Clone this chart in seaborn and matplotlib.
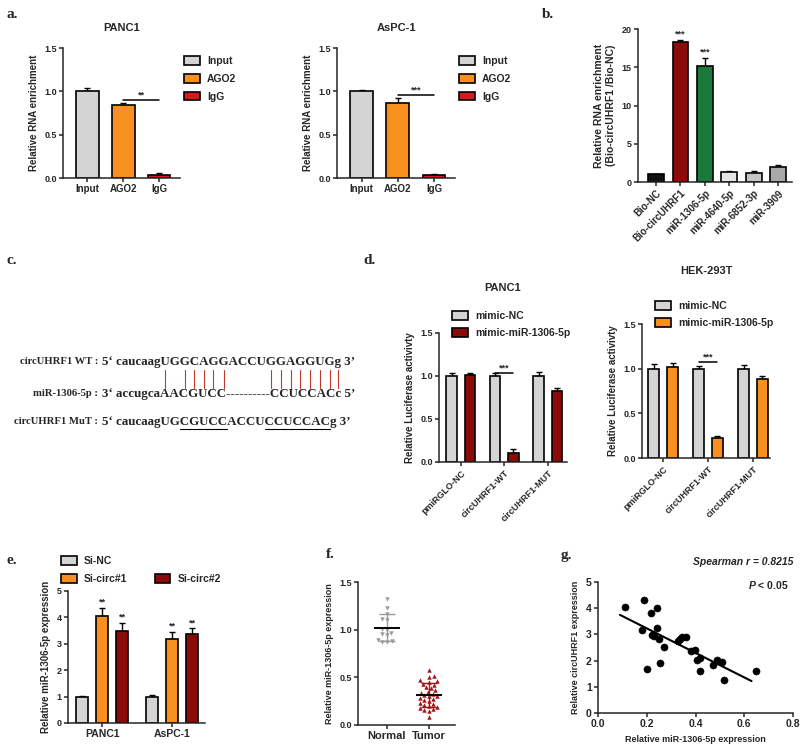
import matplotlib
matplotlib.use("Agg")
import matplotlib.pyplot as plt
import numpy as np
import pandas as pd
import seaborn as sns
from matplotlib.font_manager import FontProperties
from matplotlib.lines import Line2D
from matplotlib.patches import Patch

W, H = 800, 745

# a. RIP assay
RIP_GROUPS = ["Input", "AGO2", "IgG"]
RIP_COLORS = ["#d4d4d4", "#f7901e", "#d7191c"]
RIP_PANC1 = [1.00, 0.84, 0.04]
RIP_PANC1_ERR = [0.04, 0.03, 0.02]
RIP_ASPC1 = [1.00, 0.87, 0.03]
RIP_ASPC1_ERR = [0.02, 0.05, 0.02]

# b. biotin pull-down
PULL_GROUPS = ["Bio-NC", "Bio-circUHRF1", "miR-1306-5p", "miR-4640-5p", "miR-6852-3p", "miR-3909"]
PULL_COLORS = ["#111111", "#8b0a0a", "#1b7a3b", "#e4e4e4", "#c6c6c6", "#a8a8a8"]
PULL_VALUES = [1.0, 18.3, 15.1, 1.3, 1.2, 2.0]
PULL_ERR = [0.1, 0.3, 1.1, 0.1, 0.25, 0.2]

# c. binding sites
SEQ_LABELS = ["circUHRF1 WT :", "miR-1306-5p :", "circUHRF1 MuT :"]
SEQ_TEXTS = ["5\u2018 caucaagUGGCAGGACCUGGAGGUGg 3\u2019",
             "3\u2018 accugcaAACGUCC----------CCUCCACc 5\u2019",
             "5\u2018 caucaagUGCGUCCACCUCCUCCACg 3\u2019"]
PAIRED = [0, 2, 3, 4, 5, 6, 11, 12, 13, 14, 15, 16, 17, 18]
MUTATED = ["CGUCC", "CCUCCAC"]

# d. luciferase reporter
LUC_GROUPS = ["pmiRGLO-NC", "circUHRF1-WT", "circUHRF1-MUT"]
LUC_TREAT = ["mimic-NC", "mimic-miR-1306-5p"]
LUC_PANC1_NC = [1.00, 1.00, 1.00]
LUC_PANC1_MIM = [1.01, 0.11, 0.82]
LUC_PANC1_NC_ERR = [0.03, 0.03, 0.05]
LUC_PANC1_MIM_ERR = [0.03, 0.04, 0.04]
LUC_HEK_NC = [1.00, 1.00, 1.00]
LUC_HEK_MIM = [1.02, 0.22, 0.88]
LUC_HEK_NC_ERR = [0.05, 0.03, 0.04]
LUC_HEK_MIM_ERR = [0.04, 0.03, 0.04]

# e. knockdown
KD_CELLS = ["PANC1", "AsPC-1"]
KD_GROUPS = ["Si-NC", "Si-circ#1", "Si-circ#2"]
KD_COLORS = ["#d4d4d4", "#f7901e", "#8b0a0a"]
KD_SINC = [1.0, 1.0]
KD_CIRC1 = [4.05, 3.2]
KD_CIRC2 = [3.5, 3.38]
KD_SINC_ERR = [0.02, 0.05]
KD_CIRC1_ERR = [0.3, 0.25]
KD_CIRC2_ERR = [0.3, 0.2]

# f. tissue expression
NORMAL = [1.32, 1.23, 1.16, 1.11, 1.10, 1.01, 1.00, 0.97, 0.95, 0.94, 0.89, 0.88, 0.87, 0.87]
TUMOR = [0.58, 0.51, 0.50, 0.47, 0.46, 0.45, 0.43, 0.42, 0.40, 0.39, 0.37, 0.35, 0.34,
         0.33, 0.31, 0.30, 0.30, 0.28, 0.27, 0.26, 0.25, 0.23, 0.22, 0.21, 0.20, 0.19,
         0.18, 0.17, 0.16, 0.15, 0.08]

# g. correlation
G_MIR = [0.112, 0.19, 0.24, 0.216, 0.18, 0.24, 0.223, 0.231, 0.25, 0.27, 0.20, 0.254, 0.33,
         0.343, 0.36, 0.335, 0.38, 0.397, 0.408, 0.418, 0.42, 0.47, 0.49, 0.51, 0.518, 0.648]
G_CIRC = [4.05, 4.30, 4.0, 3.80, 3.17, 3.23, 2.98, 2.94, 2.81, 2.53, 1.68, 1.89, 2.76,
          2.89, 2.90, 2.83, 2.37, 2.42, 2.03, 2.11, 1.60, 1.83, 2.02, 1.93, 1.25, 1.61]
FIT_RANGE = [0.09, 0.63]


def px_axes(fig, x0, y0, x1, y1):
    return fig.add_axes([x0 / W, 1 - y1 / H, (x1 - x0) / W, (y1 - y0) / H])


def style_axis(ax, labelsize=6.5):
    sns.despine(ax=ax)
    for side in ["left", "bottom"]:
        ax.spines[side].set_linewidth(1.1)
    ax.tick_params(width=1.1, length=3, labelsize=labelsize, pad=1.5)
    ax.set_xlabel("")


def bar_slots(ax):
    # bars grouped by category slot, left to right inside each slot
    slots = {}
    for p in sorted(ax.patches, key=lambda p: p.get_x()):
        cx = p.get_x() + p.get_width() / 2
        slots.setdefault(int(round(cx)), []).append((cx, p.get_height()))
    return slots


def add_errors(ax, errs_by_hue):
    for c, items in bar_slots(ax).items():
        for h, (cx, top) in enumerate(items):
            ax.errorbar(cx, top, yerr=[[0], [errs_by_hue[h][c]]], fmt="none", ecolor="black",
                        elinewidth=1, capsize=2.5, capthick=1, zorder=1)


def simple_bars(ax, groups, values, errs, colors, width):
    df = pd.DataFrame({"group": groups, "value": values})
    sns.barplot(data=df, x="group", y="value", hue="group", order=groups, hue_order=groups,
                palette=colors, width=width, saturation=1, edgecolor="black", linewidth=1.2,
                errorbar=None, legend=False, ax=ax, zorder=2)
    add_errors(ax, [errs])


def grouped_bars(ax, cats, hues, series, errs, colors, width, gap):
    rows = [(c, h, v) for h, vals in zip(hues, series) for c, v in zip(cats, vals)]
    df = pd.DataFrame(rows, columns=["cat", "hue", "value"])
    sns.barplot(data=df, x="cat", y="value", hue="hue", order=cats, hue_order=hues,
                palette=colors, width=width, gap=gap, saturation=1, edgecolor="black",
                linewidth=1.2, errorbar=None, legend=False, ax=ax, zorder=2)
    add_errors(ax, errs)


def sig_line(ax, slot, left, right, y, label, size=6.5):
    items = bar_slots(ax)
    if isinstance(slot, tuple):
        x1, x2 = items[slot[0]][left][0], items[slot[1]][right][0]
    else:
        x1, x2 = items[slot][left][0], items[slot][right][0]
    ax.plot([x1, x2], [y, y], color="black", lw=1.1)
    ax.text((x1 + x2) / 2, y, label, ha="center", va="bottom", fontsize=size)


def box_legend(ax, labels, colors, **kw):
    handles = [Patch(facecolor=c, edgecolor="black", linewidth=1.2, visible=bool(lab))
               for lab, c in zip(labels, colors)]
    return ax.legend(handles, labels, frameon=False, handlelength=1.5, handleheight=0.9,
                     handletextpad=0.7, borderaxespad=0, **kw)


def main():
    sns.set_theme(style="ticks")
    plt.rcParams.update({
        "font.family": ["Liberation Sans", "DejaVu Sans"],
        "font.weight": "bold",
        "axes.labelweight": "bold",
        "axes.titleweight": "bold",
        "mathtext.fontset": "custom",
        "mathtext.it": "Liberation Sans:bold:italic",
        "mathtext.rm": "Liberation Sans:bold",
    })
    fig = plt.figure(figsize=(W / 100, H / 100), dpi=100)

    # panel a
    for (x0, x1, title, vals, errs, star, ybar) in [
        (63, 180, "PANC1", RIP_PANC1, RIP_PANC1_ERR, "**", 0.9),
        (337, 455, "AsPC-1", RIP_ASPC1, RIP_ASPC1_ERR, "***", 0.96),
    ]:
        ax = px_axes(fig, x0, 48, x1, 178)
        simple_bars(ax, RIP_GROUPS, vals, errs, RIP_COLORS, 0.63)
        ax.set_xlim(-0.68, 2.58)
        ax.set_ylim(0, 1.5)
        ax.set_yticks([0, 0.5, 1.0, 1.5])
        style_axis(ax)
        ax.tick_params(axis="x", labelsize=7)
        ax.set_ylabel("Relative RNA enrichment", fontsize=7)
        ax.set_title(title, fontsize=8, pad=12)
        sig_line(ax, (1, 2), 0, 0, ybar, star)
        box_legend(ax, RIP_GROUPS, RIP_COLORS, loc="upper left", bbox_to_anchor=(1.0, 0.97),
                   fontsize=7.5, labelspacing=0.75)

    # panel b
    ax = px_axes(fig, 638, 29, 792, 182)
    simple_bars(ax, PULL_GROUPS, PULL_VALUES, PULL_ERR, PULL_COLORS, 0.65)
    ax.set_xlim(-0.74, 5.57)
    ax.set_ylim(0, 20)
    ax.set_yticks([0, 5, 10, 15, 20])
    style_axis(ax)
    ax.tick_params(axis="x", labelsize=7)
    plt.setp(ax.get_xticklabels(), rotation=45, ha="right", rotation_mode="anchor")
    ax.set_ylabel("Relative RNA enrichment\n(Bio-circUHRF1 /Bio-NC)", fontsize=7.5)
    slots = bar_slots(ax)
    for i in [1, 2]:
        cx, top = slots[i][0]
        ax.text(cx, top + PULL_ERR[i] + 0.2, "***", ha="center", va="bottom", fontsize=6.5)

    # panel c
    lab_font = FontProperties(family="Liberation Serif", weight="bold", size=7.7)
    seq_font = FontProperties(family="Liberation Serif", weight="bold", size=9.4)
    renderer = fig.canvas.get_renderer()

    def text_w(s):
        return renderer.get_text_width_height_descent(s, seq_font, ismath=False)[0]

    colon_x, seq_x = 98, 102
    rows_y = [362, 394, 422]
    for lab, seq, y in zip(SEQ_LABELS, SEQ_TEXTS, rows_y):
        fig.text(colon_x / W, 1 - y / H, lab, ha="right", va="center", fontproperties=lab_font)
        fig.text(seq_x / W, 1 - y / H, seq, ha="left", va="center", fontproperties=seq_font)
    seq1 = SEQ_TEXTS[0]
    start = seq1.index("UGG")
    for k in PAIRED:
        i = start + k
        cx = seq_x + text_w(seq1[:i + 1]) - text_w(seq1[i]) / 2
        fig.add_artist(Line2D([cx / W, cx / W], [1 - 370 / H, 1 - 388 / H], color="#c0392b",
                              lw=0.8, transform=fig.transFigure))
    seq3 = SEQ_TEXTS[2]
    pos = seq3.index("UG") + 2
    for motif in MUTATED:
        i = seq3.index(motif, pos)
        xa = seq_x + text_w(seq3[:i + 1]) - text_w(seq3[i])
        xb = seq_x + text_w(seq3[:i + len(motif)])
        fig.add_artist(Line2D([xa / W, xb / W], [1 - 429 / H, 1 - 429 / H], color="black",
                              lw=0.8, transform=fig.transFigure))
        pos = i + len(motif)

    # panel d
    for (x0, y0, x1, y1, title, nc, mim, nce, mime, col, tpad, ybar, xlim) in [
        (439, 333, 567, 462, "PANC1", LUC_PANC1_NC, LUC_PANC1_MIM, LUC_PANC1_NC_ERR,
         LUC_PANC1_MIM_ERR, "#8b0a0a", 30, 1.04, (-0.5, 2.44)),
        (642, 324, 770, 458, "HEK-293T", LUC_HEK_NC, LUC_HEK_MIM, LUC_HEK_NC_ERR,
         LUC_HEK_MIM_ERR, "#f7901e", 36, 1.08, (-0.47, 2.38)),
    ]:
        ax = px_axes(fig, x0, y0, x1, y1)
        grouped_bars(ax, LUC_GROUPS, LUC_TREAT, [nc, mim], [nce, mime], ["#d4d4d4", col], 0.84, 0.43)
        ax.set_xlim(*xlim)
        ax.set_ylim(0, 1.5)
        ax.set_yticks([0, 0.5, 1.0, 1.5])
        style_axis(ax)
        ax.tick_params(axis="x", labelsize=6.5)
        plt.setp(ax.get_xticklabels(), rotation=45, ha="right", rotation_mode="anchor")
        ax.set_ylabel("Relative Luciferase activivty", fontsize=7)
        ax.set_title(title, fontsize=8, pad=tpad)
        sig_line(ax, 1, 0, 1, ybar, "***")
        box_legend(ax, LUC_TREAT, ["#d4d4d4", col], loc="upper left",
                   bbox_to_anchor=(0.07, 1.2), fontsize=7.5, labelspacing=0.65)

    # panel e
    ax = px_axes(fig, 68, 591, 205, 723)
    grouped_bars(ax, KD_CELLS, KD_GROUPS, [KD_SINC, KD_CIRC1, KD_CIRC2],
                 [KD_SINC_ERR, KD_CIRC1_ERR, KD_CIRC2_ERR], KD_COLORS, 0.86, 0.4)
    ax.set_xlim(-0.49, 1.47)
    ax.set_ylim(0, 5)
    ax.set_yticks([0, 1, 2, 3, 4, 5])
    style_axis(ax)
    ax.tick_params(axis="x", labelsize=7.5)
    ax.set_ylabel("Relative miR-1306-5p expression", fontsize=7)
    errs = [KD_SINC_ERR, KD_CIRC1_ERR, KD_CIRC2_ERR]
    for c, items in bar_slots(ax).items():
        for h, (cx, top) in enumerate(items):
            if h > 0:
                ax.text(cx, top + errs[h][c] + 0.05, "**", ha="center", va="bottom", fontsize=6.5)
    # empty slot keeps Si-circ#2 on the second row, as in the original layout
    box_legend(ax, [KD_GROUPS[0], KD_GROUPS[1], "", KD_GROUPS[2]],
               [KD_COLORS[0], KD_COLORS[1], "white", KD_COLORS[2]],
               loc="lower left", bbox_to_anchor=(-0.08, 1.02), ncol=2, columnspacing=2.6,
               fontsize=7.5, labelspacing=0.75)

    # panel f
    ax = px_axes(fig, 358, 582, 455, 725)
    df_f = pd.DataFrame({"group": ["Normal"] * len(NORMAL) + ["Tumor"] * len(TUMOR),
                         "value": NORMAL + TUMOR})
    for grp, marker, col in [("Normal", "v", "#9a9a9a"), ("Tumor", "^", "#a31515")]:
        sns.swarmplot(data=df_f[df_f["group"] == grp], x="group", y="value",
                      order=["Normal", "Tumor"], marker=marker, color=col, size=3.2,
                      linewidth=0, ax=ax)
    for i, (vals, col) in enumerate([(NORMAL, "#9a9a9a"), (TUMOR, "#a31515")]):
        m, s = np.mean(vals), np.std(vals, ddof=1)
        ax.hlines(m, i - 0.32, i + 0.32, color="black", lw=1.4, zorder=4)
        ax.errorbar(i, m, yerr=s, fmt="none", ecolor=col, elinewidth=1, capsize=6,
                    capthick=1, zorder=3)
    ax.set_xlim(-0.69, 1.62)
    ax.set_ylim(0, 1.5)
    ax.set_yticks([0, 0.5, 1.0, 1.5])
    style_axis(ax)
    ax.tick_params(axis="x", labelsize=8)
    ax.set_ylabel("Relative miR-1306-5p expression", fontsize=6.5)

    # panel g
    ax = px_axes(fig, 598, 582, 793, 713)
    sns.scatterplot(x=G_MIR, y=G_CIRC, color="black", s=26, edgecolor="black", ax=ax)
    slope, intercept = np.polyfit(G_MIR, G_CIRC, 1)
    xs = np.array(FIT_RANGE)
    ax.plot(xs, slope * xs + intercept, color="black", lw=1.5)
    ax.set_xlim(0, 0.8)
    ax.set_ylim(0, 5)
    ax.set_xticks([0, 0.2, 0.4, 0.6, 0.8])
    ax.set_yticks([0, 1, 2, 3, 4, 5])
    style_axis(ax, labelsize=7.5)
    ax.set_xlabel("Relative miR-1306-5p expression", fontsize=6.5)
    ax.set_ylabel("Relative circUHRF1 expression", fontsize=6.5)
    ax.text(1.0, 1.155, "Spearman r = 0.8215", transform=ax.transAxes, ha="right", va="center",
            fontsize=7.5, style="italic")
    ax.text(0.98, 0.975, r"$\it{P}$ < 0.05", transform=ax.transAxes, ha="right", va="center",
            fontsize=7.5)

    # panel letters
    for lab, x, y in [("a.", 12, 15), ("b.", 548, 15), ("c.", 12, 261), ("d.", 370, 261),
                      ("e.", 12, 560), ("f.", 330, 555), ("g.", 566, 555)]:
        fig.text(x / W, 1 - y / H, lab, ha="center", va="center", fontsize=11,
                 family="Liberation Serif", weight="bold")

    fig.savefig("out.png", dpi=100)
    plt.close(fig)


if __name__ == "__main__":
    main()
